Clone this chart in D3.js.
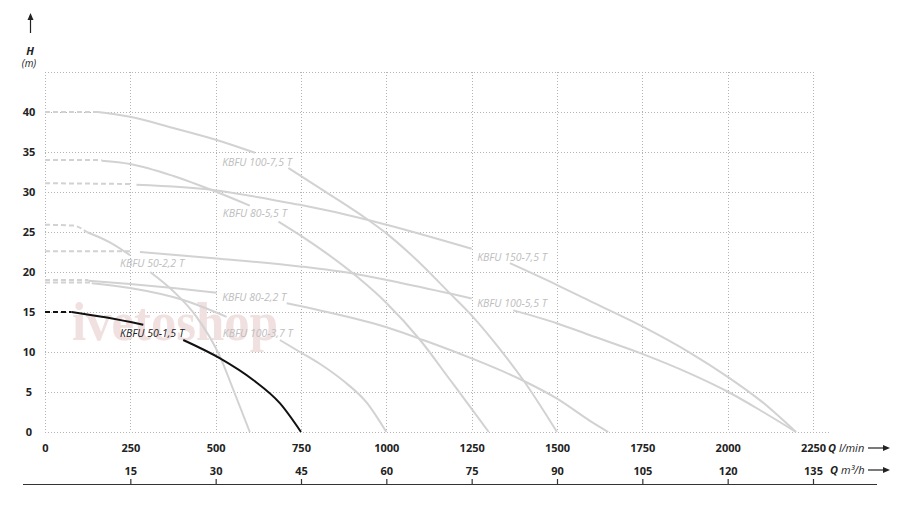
<!DOCTYPE html>
<html>
<head>
<meta charset="utf-8">
<script src="https://cdn.jsdelivr.net/npm/d3@7"></script>
<style>
  html, body { margin: 0; padding: 0; background: #fff; }
  svg { display: block; }
  .tick text { font-family: "Open Sans", sans-serif; font-weight: 700; font-size: 11px; fill: #222; }
</style>
</head>
<body>
<svg id="chart" width="900" height="519"></svg>
<script>
// ---------------- data ----------------
const qTicksLmin = [0, 250, 500, 750, 1000, 1250, 1500, 1750, 2000, 2250];
const qTicksM3h  = [15, 30, 45, 60, 75, 90, 105, 120, 135];
const hTicks     = [0, 5, 10, 15, 20, 25, 30, 35, 40];

// each curve: a dashed start and a solid part (null = gap where the label sits)
const KBFU_100_75_dash = [[0, 40.0], [155, 40.0]];
const KBFU_100_75 = [[155, 40.0], [249, 39.4], [376, 38.0], [503, 36.5], [615, 34.9], null,
  [713, 33.0], [830, 29.8], [947, 26.5], [1001, 24.8], [1089, 21.5], [1187, 17.3], [1245, 14.8],
  [1343, 9.8], [1401, 6.5], [1500, 0]];

const KBFU_80_55_dash = [[0, 34.0], [166, 34.0]];
const KBFU_80_55 = [[166, 33.9], [249, 33.5], [376, 32.0], [503, 30.0], [600, 28.3], null,
  [684, 26.3], [747, 24.6], [903, 19.8], [1001, 16.1], [1099, 11.5], [1187, 6.5], [1250, 2.9], [1300, 0]];

const KBFU_150_75_dash = [[0, 31.1], [250, 31.0]];
const KBFU_150_75 = [[268, 30.9], [503, 30.2], [669, 29.0], [747, 28.4], [947, 26.5], [1001, 25.9],
  [1250, 22.9], null, [1362, 21.1], [1499, 18.4], [1600, 16.3], [1750, 13.2], [1890, 9.9],
  [2000, 6.9], [2100, 3.8], [2200, 0]];

const KBFU_100_55_dash = [[0, 22.6], [250, 22.6]];
const KBFU_100_55 = [[278, 22.5], [503, 21.7], [747, 20.7], [903, 19.8], [1001, 19.0], [1187, 17.3],
  [1250, 16.7], null, [1372, 15.2], [1499, 13.6], [1597, 12.1], [1748, 9.8], [1890, 7.3],
  [2002, 5.0], [2104, 2.5], [2200, 0]];

const KBFU_80_22_dash = [[0, 19.0], [127, 19.0]];
const KBFU_80_22 = [[127, 18.9], [249, 18.5], [376, 18.0], [503, 17.4], null,
  [708, 16.1], [806, 15.2], [1001, 13.1], [1108, 11.5], [1250, 9.2], [1397, 6.5], [1499, 4.2],
  [1600, 1.3], [1650, 0]];

const KBFU_100_37_dash = [[0, 18.7], [137, 18.7]];
const KBFU_100_37 = [[137, 18.6], [249, 18.0], [405, 16.5], [532, 14.4], null,
  [688, 11.5], [747, 10.0], [806, 8.5], [874, 6.4], [942, 3.7], [1000, 0]];

const KBFU_50_22_dash = [[0, 25.9], [83, 25.8], [122, 25.0]];
const KBFU_50_22 = [[122, 25.0], [190, 23.7], [249, 22.1], null,
  [308, 20.0], [376, 17.6], [444, 14.4], [513, 9.4], [552, 5.25], [600, 0]];

const KBFU_50_15_dash = [[0, 15.0], [78, 15.0]];
const KBFU_50_15 = [[78, 15.0], [181, 14.3], [288, 13.4], null,
  [405, 11.5], [513, 9.2], [610, 6.5], [688, 3.6], [750, 0]];

const curveNames = ["KBFU 100-7,5 T", "KBFU 80-5,5 T", "KBFU 150-7,5 T", "KBFU 100-5,5 T",
  "KBFU 80-2,2 T", "KBFU 100-3,7 T", "KBFU 50-2,2 T", "KBFU 50-1,5 T"];

// ---------------- layout ----------------
const svg = d3.select("#chart");
const x = d3.scaleLinear().domain([0, 2250]).range([45, 813]);
const x2 = d3.scaleLinear().domain([0, 135]).range([45, 813]);
const y = d3.scaleLinear().domain([0, 45]).range([432, 72]);

const GRAY = "#d2d2d2", LABEL_GRAY = "#bdbdbd", BLACK = "#111";

const series = [
  { name: curveNames[0], dash: KBFU_100_75_dash, pts: KBFU_100_75, color: GRAY, lab: [519, 33.25], lc: LABEL_GRAY },
  { name: curveNames[1], dash: KBFU_80_55_dash,  pts: KBFU_80_55,  color: GRAY, lab: [521, 26.9],  lc: LABEL_GRAY },
  { name: curveNames[2], dash: KBFU_150_75_dash, pts: KBFU_150_75, color: GRAY, lab: [1266, 21.4], lc: LABEL_GRAY },
  { name: curveNames[3], dash: KBFU_100_55_dash, pts: KBFU_100_55, color: GRAY, lab: [1266, 15.6], lc: LABEL_GRAY },
  { name: curveNames[4], dash: KBFU_80_22_dash,  pts: KBFU_80_22,  color: GRAY, lab: [519, 16.4],  lc: LABEL_GRAY },
  { name: curveNames[5], dash: KBFU_100_37_dash, pts: KBFU_100_37, color: GRAY, lab: [521, 11.9],  lc: LABEL_GRAY },
  { name: curveNames[6], dash: KBFU_50_22_dash,  pts: KBFU_50_22,  color: GRAY, lab: [220, 20.6],  lc: LABEL_GRAY },
  { name: curveNames[7], dash: KBFU_50_15_dash,  pts: KBFU_50_15,  color: BLACK, lab: [220, 11.9], lc: "#222" }
];

// ---------------- grid ----------------
const grid = svg.append("g").attr("stroke", "#b4b4b4").attr("stroke-width", 1)
  .attr("stroke-dasharray", "1,2").attr("fill", "none");
grid.selectAll("line.h").data([5, 10, 15, 20, 25, 30, 35, 40, 45]).join("line")
  .attr("x1", x(0)).attr("x2", x(2250))
  .attr("y1", d => Math.round(y(d)) + 0.5).attr("y2", d => Math.round(y(d)) + 0.5);
grid.append("line").attr("x1", x(0)).attr("x2", x(2250) + 18)
  .attr("y1", Math.round(y(0)) + 0.5).attr("y2", Math.round(y(0)) + 0.5);
grid.selectAll("line.v").data(qTicksLmin).join("line")
  .attr("x1", d => Math.round(x(d)) + 0.5).attr("x2", d => Math.round(x(d)) + 0.5)
  .attr("y1", y(45)).attr("y2", y(0));

// ---------------- watermark ----------------
svg.append("text").attr("x", 72).attr("y", 340)
  .attr("font-family", "Liberation Serif, serif").attr("font-size", 54).attr("font-weight", 700)
  .attr("textLength", 206).attr("lengthAdjust", "spacingAndGlyphs")
  .attr("fill", "#f1e0e0").text("ivetoshop");

// ---------------- curves ----------------
const line = d3.line().x(d => x(d[0])).y(d => y(d[1])).curve(d3.curveMonotoneX);
function splitSegments(pts) {
  const segs = [[]];
  pts.forEach(p => { if (p === null) segs.push([]); else segs[segs.length - 1].push(p); });
  return segs.filter(s => s.length > 1);
}
const curves = svg.append("g").attr("fill", "none");
series.forEach(s => {
  const g = curves.append("g").attr("stroke", s.color).attr("stroke-width", 2);
  g.append("path").attr("d", line(s.dash)).attr("stroke-dasharray", "5,3");
  splitSegments(s.pts).forEach(seg => g.append("path").attr("d", line(seg)));
});

// ---------------- curve labels ----------------
svg.append("g").selectAll("text").data(series).join("text")
  .attr("x", d => x(d.lab[0])).attr("y", d => y(d.lab[1]))
  .attr("font-family", "Open Sans, sans-serif").attr("font-style", "italic")
  .attr("font-size", 10.5).attr("fill", d => d.lc).text(d => d.name);

// ---------------- axes ----------------
const axQ = svg.append("g").attr("transform", `translate(0,${y(0)})`)
  .call(d3.axisBottom(x).tickValues(qTicksLmin).tickSize(0).tickPadding(12).tickFormat(d3.format("d")));
axQ.select(".domain").remove();

const axisY = 484;
svg.append("line").attr("x1", 23).attr("x2", 877).attr("y1", axisY + 0.5).attr("y2", axisY + 0.5)
  .attr("stroke", "#333").attr("stroke-width", 1.2);
const axM = svg.append("g").attr("transform", `translate(0,${axisY})`)
  .call(d3.axisTop(x2).tickValues(qTicksM3h).tickSize(5).tickSizeOuter(0).tickPadding(4).tickFormat(d3.format("d")));
axM.select(".domain").remove();
axM.selectAll(".tick line").attr("stroke", "#333").attr("stroke-width", 1.2);

const axH = svg.append("g").attr("transform", "translate(29,0)")
  .call(d3.axisLeft(y).tickValues(hTicks).tickSize(0).tickPadding(0));
axH.select(".domain").remove();
axH.selectAll(".tick text").attr("text-anchor", "middle").attr("x", 0);

// ---------------- axis titles & arrows ----------------
const ink = "#222";
function arrowRight(yy) {
  svg.append("line").attr("x1", 868).attr("x2", 883).attr("y1", yy).attr("y2", yy)
    .attr("stroke", ink).attr("stroke-width", 1.2);
  svg.append("path").attr("d", `M883,${yy - 3}L890,${yy}L883,${yy + 3}Z`).attr("fill", ink);
}
const t1 = svg.append("text").attr("x", 828).attr("y", 452)
  .attr("font-family", "Open Sans, sans-serif").attr("font-size", 11).attr("fill", ink);
t1.append("tspan").attr("font-weight", 700).attr("font-style", "italic").text("Q ");
t1.append("tspan").attr("font-style", "italic").text("l/min");
arrowRight(448);
const t2 = svg.append("text").attr("x", 830).attr("y", 474)
  .attr("font-family", "Open Sans, sans-serif").attr("font-size", 11).attr("fill", ink);
t2.append("tspan").attr("font-weight", 700).attr("font-style", "italic").text("Q ");
t2.append("tspan").attr("font-style", "italic").text("m³/h");
arrowRight(470);

svg.append("line").attr("x1", 30.5).attr("x2", 30.5).attr("y1", 33).attr("y2", 19)
  .attr("stroke", ink).attr("stroke-width", 1.2);
svg.append("path").attr("d", "M27.5,20L30.5,13L33.5,20Z").attr("fill", ink);
svg.append("text").attr("x", 30).attr("y", 55).attr("text-anchor", "middle")
  .attr("font-family", "Open Sans, sans-serif").attr("font-size", 11).attr("font-weight", 700)
  .attr("font-style", "italic").attr("fill", ink).text("H");
svg.append("text").attr("x", 29).attr("y", 67).attr("text-anchor", "middle")
  .attr("font-family", "Open Sans, sans-serif").attr("font-size", 10).attr("font-style", "italic")
  .attr("fill", ink).text("(m)");
</script>
</body>
</html>
